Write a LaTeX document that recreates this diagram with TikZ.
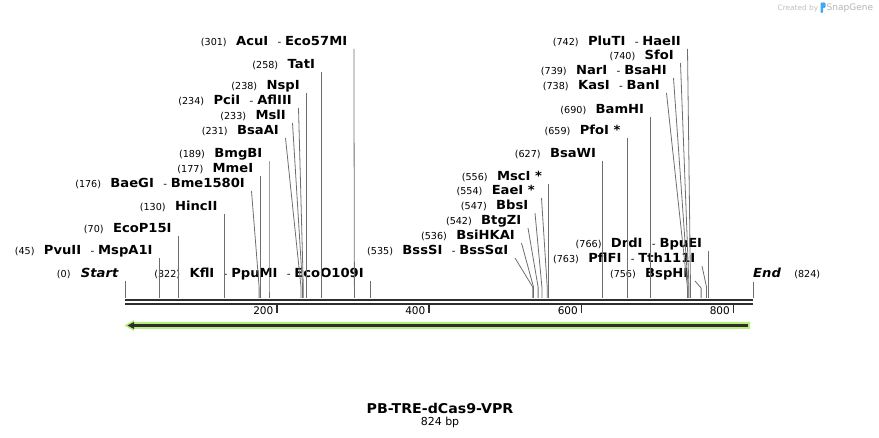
\documentclass[tikz,border=0pt]{standalone}
\usepackage{fontspec}
\setmainfont{DejaVu Sans}
\newfontfamily\enzfont{DejaVu Sans}[FakeStretch=1.05]
\usetikzlibrary{positioning}
\definecolor{leadgray}{HTML}{6E6E6E}
\definecolor{featgreen}{HTML}{B6F07A}
\definecolor{featdark}{HTML}{2E2E2E}
\definecolor{markgray}{HTML}{B4B4B4}
\definecolor{snapblue}{HTML}{3FA9F5}
\newcommand{\dsh}{\hspace{.75em}{\mdseries\fontsize{10}{12}\selectfont -}\hspace{.3em}}
\begin{document}
\begin{tikzpicture}[x=1pt,y=-1pt,
    enz/.style={font=\enzfont\fontsize{12.5}{14}\selectfont\bfseries,inner sep=0pt,anchor=base east},
    num/.style={font=\fontsize{9.6}{11}\selectfont,inner sep=0pt},
    lead/.style={draw=leadgray,line width=.8pt},
    tk/.style={font=\fontsize{10.5}{12}\selectfont,inner sep=0pt,anchor=east}]
		\useasboundingbox (0,0) rectangle (879,438);
		
		% sites on the sequence
		\coordinate (S0) at (125,298);
		\coordinate (S45) at (159.3,298);
		\coordinate (S70) at (178.3,298);
		\coordinate (S130) at (224.1,298);
		\coordinate (S176) at (259.1,298);
		\coordinate (S177) at (259.9,298);
		\coordinate (S189) at (269.0,298);
		\coordinate (S231) at (301.0,298);
		\coordinate (S233) at (302.6,298);
		\coordinate (S234) at (303.3,298);
		\coordinate (S238) at (306.4,298);
		\coordinate (S258) at (321.6,298);
		\coordinate (S301) at (354.4,298);
		\coordinate (S322) at (370.4,298);
		\coordinate (S535) at (532.7,298);
		\coordinate (S536) at (533.5,298);
		\coordinate (S542) at (538.1,298);
		\coordinate (S547) at (541.9,298);
		\coordinate (S554) at (547.2,298);
		\coordinate (S556) at (548.7,298);
		\coordinate (S627) at (602.8,298);
		\coordinate (S659) at (627.2,298);
		\coordinate (S690) at (650.8,298);
		\coordinate (S738) at (687.4,298);
		\coordinate (S739) at (688.2,298);
		\coordinate (S740) at (689.0,298);
		\coordinate (S742) at (690.5,298);
		\coordinate (S756) at (701.1,298);
		\coordinate (S763) at (706.5,298);
		\coordinate (S766) at (708.8,298);
		\coordinate (S824) at (753.0,298);
		
		% left labels
		\node[enz] (ACU) at (347.4,46) {AcuI\dsh Eco57MI};
		\node[enz] (TAT) at (315.1,69) {TatI};
		\node[enz] (NSP) at (299.9,90) {NspI};
		\node[enz] (PCI) at (292,105) {PciI\dsh AflIII};
		\node[enz] (MSL) at (286,120) {MslI};
		\node[enz] (BSAA) at (279,135) {BsaAI};
		\node[enz] (BMG) at (262.5,158) {BmgBI};
		\node[enz] (MME) at (253.4,173) {MmeI};
		\node[enz] (BAE) at (245,188) {BaeGI\dsh Bme1580I};
		\node[enz] (HINC) at (217.6,211) {HincII};
		\node[enz] (ECOP) at (171.8,233) {EcoP15I};
		\node[enz] (PVU) at (152.8,255) {PvuII\dsh MspA1I};
		\node[enz,font=\enzfont\fontsize{12.5}{14}\selectfont\bfseries\itshape] (START) at (118.5,278) {Start};
		\node[enz] (KFL) at (363.9,278) {KflI\dsh PpuMI\dsh EcoO109I};
		
		% right labels
		\node[enz] (PLU) at (681,46) {PluTI\dsh HaeII};
		\node[enz] (SFO) at (674,60) {SfoI};
		\node[enz] (NAR) at (667,75) {NarI\dsh BsaHI};
		\node[enz] (KAS) at (660,90) {KasI\dsh BanI};
		\node[enz] (BAM) at (644.3,114) {BamHI};
		\node[enz] (PFO) at (620.7,135) {PfoI *};
		\node[enz] (BSAW) at (596.3,158) {BsaWI};
		\node[enz] (MSC) at (542.2,181) {MscI *};
		\node[enz] (EAE) at (535,195) {EaeI *};
		\node[enz] (BBS) at (528.5,210) {BbsI};
		\node[enz] (BTG) at (521.5,225) {BtgZI};
		\node[enz] (BSI) at (515,240) {BsiHKAI};
		\node[enz] (BSS) at (508.5,255) {BssSI\dsh BssSαI};
		\node[enz] (DRD) at (702.3,248) {DrdI\dsh BpuEI};
		\node[enz] (PFL) at (695.5,263) {PflFI\dsh Tth111I};
		\node[enz] (BSP) at (688.5,278) {BspHI};
		\node[enz,anchor=base west,font=\enzfont\fontsize{12.5}{14}\selectfont\bfseries\itshape] (END) at (753,278) {End};
		
		% positions
		\node[num,base left=9pt of ACU] (NACU) {(301)};
		\node[num,base left=9pt of TAT] (NTAT) {(258)};
		\node[num,base left=9pt of NSP] (NNSP) {(238)};
		\node[num,base left=9pt of PCI] (NPCI) {(234)};
		\node[num,base left=9pt of MSL] (NMSL) {(233)};
		\node[num,base left=9pt of BSAA] (NBSAA) {(231)};
		\node[num,base left=9pt of BMG] (NBMG) {(189)};
		\node[num,base left=9pt of MME] (NMME) {(177)};
		\node[num,base left=9pt of BAE] (NBAE) {(176)};
		\node[num,base left=9pt of HINC] (NHINC) {(130)};
		\node[num,base left=9pt of ECOP] (NECOP) {(70)};
		\node[num,base left=9pt of PVU] (NPVU) {(45)};
		\node[num,base left=10pt of START] (NSTART) {(0)};
		\node[num,base left=9pt of KFL] (NKFL) {(322)};
		\node[num,base left=9pt of PLU] (NPLU) {(742)};
		\node[num,base left=9pt of SFO] (NSFO) {(740)};
		\node[num,base left=9pt of NAR] (NNAR) {(739)};
		\node[num,base left=9pt of KAS] (NKAS) {(738)};
		\node[num,base left=9pt of BAM] (NBAM) {(690)};
		\node[num,base left=9pt of PFO] (NPFO) {(659)};
		\node[num,base left=9pt of BSAW] (NBSAW) {(627)};
		\node[num,base left=9pt of MSC] (NMSC) {(556)};
		\node[num,base left=9pt of EAE] (NEAE) {(554)};
		\node[num,base left=9pt of BBS] (NBBS) {(547)};
		\node[num,base left=9pt of BTG] (NBTG) {(542)};
		\node[num,base left=9pt of BSI] (NBSI) {(536)};
		\node[num,base left=9pt of BSS] (NBSS) {(535)};
		\node[num,base left=9pt of DRD] (NDRD) {(766)};
		\node[num,base left=9pt of PFL] (NPFL) {(763)};
		\node[num,base left=9pt of BSP] (NBSP) {(756)};
		\node[num,base right=13pt of END] (NEND) {(824)};
		
		% leader lines
		\draw[lead] ([shift={(6.5,3)}]ACU.base east) -- ([yshift=11pt]S301) -- (S301);
		\draw[lead] ([shift={(6.5,3)}]TAT.base east) -- ([yshift=11pt]S258) -- (S258);
		\draw[lead] ([shift={(6.5,3)}]NSP.base east) -- ([yshift=11pt]S238) -- (S238);
		\draw[lead] ([shift={(6.5,3)}]PCI.base east) -- ([yshift=11pt]S234) -- (S234);
		\draw[lead] ([shift={(6.5,3)}]MSL.base east) -- ([yshift=11pt]S233) -- (S233);
		\draw[lead] ([shift={(6.5,3)}]BSAA.base east) -- ([yshift=11pt]S231) -- (S231);
		\draw[lead] ([shift={(6.5,3)}]BMG.base east) -- ([yshift=11pt]S189) -- (S189);
		\draw[lead] ([shift={(6.5,3)}]MME.base east) -- ([yshift=11pt]S177) -- (S177);
		\draw[lead] ([shift={(6.5,3)}]BAE.base east) -- ([yshift=11pt]S176) -- (S176);
		\draw[lead] ([shift={(6.5,3)}]HINC.base east) -- ([yshift=11pt]S130) -- (S130);
		\draw[lead] ([shift={(6.5,3)}]ECOP.base east) -- ([yshift=11pt]S70) -- (S70);
		\draw[lead] ([shift={(6.5,3)}]PVU.base east) -- ([yshift=11pt]S45) -- (S45);
		\draw[lead] ([shift={(6.5,3)}]START.base east) -- (S0);
		\draw[lead] ([shift={(6.5,3)}]KFL.base east) -- (S322);
		\draw[lead] ([shift={(6.5,3)}]PLU.base east) -- ([yshift=11pt]S742) -- (S742);
		\draw[lead] ([shift={(6.5,3)}]SFO.base east) -- ([yshift=11pt]S740) -- (S740);
		\draw[lead] ([shift={(6.5,3)}]NAR.base east) -- ([yshift=11pt]S739) -- (S739);
		\draw[lead] ([shift={(6.5,3)}]KAS.base east) -- ([yshift=11pt]S738) -- (S738);
		\draw[lead] ([shift={(6.5,3)}]BAM.base east) -- ([yshift=11pt]S690) -- (S690);
		\draw[lead] ([shift={(6.5,3)}]PFO.base east) -- ([yshift=11pt]S659) -- (S659);
		\draw[lead] ([shift={(6.5,3)}]BSAW.base east) -- ([yshift=11pt]S627) -- (S627);
		\draw[lead] ([shift={(6.5,3)}]MSC.base east) -- ([yshift=11pt]S556) -- (S556);
		\draw[lead] ([shift={(6.5,3)}]EAE.base east) -- ([yshift=11pt]S554) -- (S554);
		\draw[lead] ([shift={(6.5,3)}]BBS.base east) -- ([yshift=11pt]S547) -- (S547);
		\draw[lead] ([shift={(6.5,3)}]BTG.base east) -- ([yshift=11pt]S542) -- (S542);
		\draw[lead] ([shift={(6.5,3)}]BSI.base east) -- ([yshift=11pt]S536) -- (S536);
		\draw[lead] ([shift={(6.5,3)}]BSS.base east) -- ([yshift=11pt]S535) -- (S535);
		\draw[lead] ([shift={(6.5,3)}]DRD.base east) -- ([yshift=11pt]S766) -- (S766);
		\draw[lead] ([shift={(6.5,3)}]PFL.base east) -- ([yshift=11pt]S763) -- (S763);
		\draw[lead] ([shift={(6.5,3)}]BSP.base east) -- ([yshift=10pt]S756) -- (S756);
		\draw[lead] ([yshift=-4pt]END.base west) -- (S824);
		
		% sequence and ruler
		\draw[line width=2.3pt,featdark] (125,300.1) -- (753,300.1);
		\draw[line width=2.1pt,featdark] (125,303.8) -- (753,303.8);
		\draw[line width=1.8pt,featdark] (277,305) -- (277,313);
		\draw[line width=1.8pt,featdark] (429,305) -- (429,313);
		\draw[line width=1.8pt,featdark] (581.5,305) -- (581.5,313);
		\draw[line width=1.8pt,featdark] (733.5,305) -- (733.5,313);
		\node[tk] (T200) at (273.5,311) {200};
		\node[tk] (T400) at (425.5,311) {400};
		\node[tk] (T600) at (578,311) {600};
		\node[tk] (T800) at (730,311) {800};
		
		% feature arrow
		\fill[featgreen] (750,322) -- (134,322) -- (134,320) -- (124.5,325.5) -- (134,331) -- (134,329) -- (750,329) -- cycle;
		\draw[line width=2.2pt,featdark] (748,325.5) -- (132,325.5);
		\fill[featdark] (127.5,325.5) -- (134,322) -- (134,329) -- cycle;
		
		% title
		\node[font=\enzfont\fontsize{13.5}{16}\selectfont\bfseries,inner sep=0pt] (TITLE) at (440,408) {PB-TRE-dCas9-VPR};
		\node[font=\fontsize{11}{13}\selectfont,inner sep=0pt] (LEN) at (440,422) {824 bp};
		
		% watermark
		\node[font=\fontsize{7.4}{9}\selectfont,text=markgray!85,inner sep=0pt,anchor=base east] (MADE) at (818.5,10.5) {Created by};
		\fill[snapblue,rounded corners=.8pt] (820.5,2.5) rectangle (823,13);
		\fill[snapblue,rounded corners=1.2pt] (822,2.5) rectangle (825.5,8);
		\node[font=\fontsize{9}{11}\selectfont,text=markgray,inner sep=0pt,anchor=base west] (SNAP) at (826.5,11) {SnapGene};
\end{tikzpicture}
\end{document}
